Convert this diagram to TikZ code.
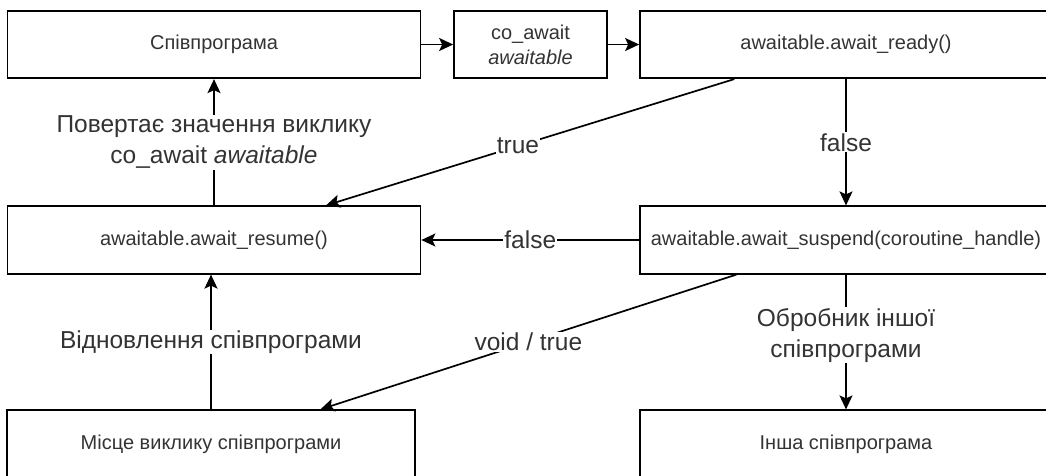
\documentclass[tikz,border=0pt]{standalone}
\usepackage{fontspec}
\setmainfont{Liberation Sans}
\usetikzlibrary{arrows.meta,calc}
\definecolor{txt}{RGB}{51,51,51}
\tikzset{
  box/.style={draw=black, line width=1.7pt, minimum height=67.5pt, inner sep=0pt,
    text=txt, font=\fontsize{20}{25}\selectfont, align=center},
  conn/.style={draw=black, line width=1.7pt,
    -{Stealth[length=14pt,width=13pt,inset=3pt]}},
  lbl/.style={fill=white, text=txt, font=\fontsize{24.5}{31}\selectfont,
    inner sep=1pt, align=center},
}
\begin{document}
\begin{tikzpicture}[x=1pt,y=-1pt]
\useasboundingbox (0,0) rectangle (1046,475);
\clip (0,0) rectangle (1046,475);
% boxes
\node[box, minimum width=413pt] (spiv) at (214,44.5) {Співпрограма};
\node[box, minimum width=153pt] (coaw) at (530.5,44.5) {co\_await\\\textit{awaitable}};
\node[box, minimum width=412pt] (ready) at (846,44.5) {awaitable.await\_ready()};
\node[box, minimum width=413pt] (resume) at (214,240) {awaitable.await\_resume()};
\node[box, minimum width=412pt] (susp) at (846,240) {awaitable.await\_suspend(coroutine\_handle)};
\node[box, minimum width=408pt] (place) at (211,444) {Місце виклику співпрограми};
\node[box, minimum width=412pt] (other) at (846,444) {Інша співпрограма};
% connectors
\draw[conn] (spiv) -- (coaw);
\draw[conn] (coaw) -- (ready);
\draw[conn] ($(ready.south west)!0.23!(ready.south east)$) --
  node[lbl, pos=0.53] {true} ($(resume.north west)!0.77!(resume.north east)$);
\draw[conn] (ready) -- node[lbl] {false} (susp);
\draw[conn] (susp) -- node[lbl] {false} (resume);
\draw[conn] ($(susp.south west)!0.235!(susp.south east)$) --
  node[lbl] {void / true} ($(place.north west)!0.767!(place.north east)$);
\draw[conn] (susp) -- node[lbl, pos=0.45] {Обробник іншої\\співпрограми} (other);
\draw[conn] (place.north) -- node[lbl] {Відновлення співпрограми} (place.north |- resume.south);
\draw[conn] (resume) -- node[lbl] {Повертає значення виклику\\co\_await \textit{awaitable}} (spiv);
\end{tikzpicture}
\end{document}
